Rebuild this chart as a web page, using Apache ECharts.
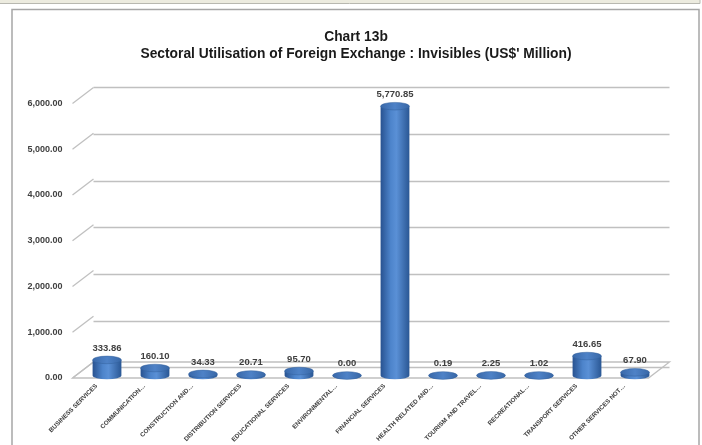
<!DOCTYPE html>
<html>
<head>
<meta charset="utf-8">
<style>
  html, body { margin: 0; padding: 0; background: #ffffff; }
  #chart { width: 702px; height: 445px; }
</style>
<script src="https://cdn.jsdelivr.net/npm/echarts@6/dist/echarts.min.js"></script>
</head>
<body>
<div id="chart"></div>
<script>
// Sector names (as truncated on the axis) and their utilisation, US$ million
const categories = [
  'BUSINESS SERVICES', 'COMMUNICATION…', 'CONSTRUCTION AND…', 'DISTRIBUTION SERVICES',
  'EDUCATIONAL SERVICES', 'ENVIRONMENTAL…', 'FINANCIAL SERVICES', 'HEALTH RELATED AND…',
  'TOURISM AND TRAVEL…', 'RECREATIONAL…', 'TRANSPORT SERVICES', 'OTHER SERVICES NOT…'
];
const values = [333.86, 160.10, 34.33, 20.71, 95.70, 0.00, 5770.85, 0.19, 2.25, 1.02, 416.65, 67.90];
const yTicks = [0, 1000, 2000, 3000, 4000, 5000, 6000];

const titleText = 'Chart 13b';
const subtitleText = "Sectoral Utilisation of Foreign Exchange : Invisibles (US$' Million)";

// pseudo-3D projection: depth of the plot box in screen pixels
const DX = 21, DY = -16;
const PLOT_W = 576, PLOT_H = 280;
const FRONT_LEFT = 72.5, FRONT_TOP = 103.5;

const fmt = v => v.toLocaleString('en-US', { minimumFractionDigits: 2, maximumFractionDigits: 2 });
const FONT = '"Liberation Sans", Arial, sans-serif';

const chart = echarts.init(document.getElementById('chart'), null, { renderer: 'canvas' });

// three stacked planes: front (labels), middle (cylinders), back (wall gridlines)
function gridAt(k) {
  return {
    left: FRONT_LEFT + DX * k,
    top: FRONT_TOP + DY * k,
    width: PLOT_W,
    height: PLOT_H,
    containLabel: false
  };
}

const yBase = { type: 'value', min: 0, max: yTicks[yTicks.length - 1], interval: 1000 };

function renderCylinder(params, api) {
  const i = api.value(0), v = api.value(1);
  const top = api.coord([i, v]);
  const base = api.coord([i, 0]);
  const w = api.size([1, 0])[0] * 0.6;
  const rx = w / 2, ry = 3.8;
  const cx = top[0], yt = top[1], yb = base[1];
  const x0 = cx - rx, x1 = cx + rx;
  const bodyPath =
    `M${x0} ${yt} L${x0} ${yb} A${rx} ${ry} 0 0 0 ${x1} ${yb} L${x1} ${yt} Z`;
  const sideFill = {
    type: 'linear', x: 0, y: 0, x2: 1, y2: 0,
    colorStops: [
      { offset: 0, color: '#285290' },
      { offset: 0.35, color: '#4d84cb' },
      { offset: 0.55, color: '#5a90d6' },
      { offset: 1, color: '#2a5794' }
    ]
  };
  const topFill = {
    type: 'linear', x: 0, y: 0, x2: 1, y2: 0,
    colorStops: [
      { offset: 0, color: '#3968a9' },
      { offset: 0.5, color: '#4e82c7' },
      { offset: 1, color: '#3867a6' }
    ]
  };
  const topPath =
    `M${x0} ${yt} A${rx} ${ry} 0 0 1 ${x1} ${yt} A${rx} ${ry} 0 0 1 ${x0} ${yt} Z`;
  return {
    type: 'group',
    children: [
      { type: 'path', shape: { pathData: bodyPath }, style: { fill: sideFill } },
      { type: 'path', shape: { pathData: topPath }, style: { fill: topFill, stroke: '#33609c', lineWidth: 0.5 } },
      {
        type: 'text',
        style: {
          text: fmt(v), x: cx, y: yt - ry - 3,
          align: 'center', verticalAlign: 'bottom',
          font: `bold 9.5px ${FONT}`, fill: '#404040'
        }
      }
    ]
  };
}

// short receding edges of the side wall at each tick
function renderWallTick(params, api) {
  const cs = params.coordSys;
  const y = api.coord([0, api.value(1)])[1];
  return {
    type: 'line',
    shape: { x1: cs.x, y1: y, x2: cs.x + DX, y2: y + DY },
    style: { stroke: '#c0c0c0', lineWidth: 1.3 }
  };
}

// outline of the floor
function renderFloor(params, api) {
  const cs = params.coordSys;
  const y0 = api.coord([0, 0])[1];
  return {
    type: 'polygon',
    shape: {
      points: [
        [cs.x, y0], [cs.x + cs.width, y0],
        [cs.x + cs.width + DX, y0 + DY], [cs.x + DX, y0 + DY]
      ]
    },
    style: { fill: 'rgba(255,255,255,0)', stroke: '#c0c0c0', lineWidth: 1.3 }
  };
}

chart.setOption({
  backgroundColor: '#ffffff',
  animation: false,
  title: {
    text: titleText + '\n' + subtitleText,
    left: 351, top: 24,
    textAlign: 'center',
    textStyle: { fontFamily: FONT, fontSize: 13.8, fontWeight: 'bold', color: '#1a1a1a', lineHeight: 17 }
  },
  graphic: [
    { type: 'rect', shape: { x: -2, y: -2, width: 702, height: 5.5 }, style: { fill: '#ecebdf', stroke: '#b8b8b0', lineWidth: 1 }, silent: true },
    { type: 'rect', shape: { x: 12, y: 9.5, width: 687, height: 450 }, style: { fill: 'none', stroke: '#a6a6a6', lineWidth: 1.5 }, silent: true, z: -1 }
  ],
  grid: [gridAt(0), gridAt(0.5), gridAt(1)],
  xAxis: [
    {
      gridIndex: 0, type: 'category', data: categories,
      axisLine: { show: false }, axisTick: { show: false },
      axisLabel: { rotate: 45, margin: 7, interval: 0, fontFamily: FONT, fontSize: 6.3, fontWeight: 'bold', color: '#404040' }
    },
    { gridIndex: 1, type: 'category', data: categories, show: false },
    { gridIndex: 2, type: 'category', data: categories, show: false }
  ],
  yAxis: [
    {
      gridIndex: 0, ...yBase,
      axisLine: { show: false }, axisTick: { show: false }, splitLine: { show: false },
      axisLabel: { margin: 10, formatter: v => fmt(v), fontFamily: FONT, fontSize: 9, fontWeight: 'bold', color: '#404040' }
    },
    { gridIndex: 1, ...yBase, show: false, splitLine: { show: false } },
    {
      gridIndex: 2, ...yBase,
      axisLine: { show: false }, axisTick: { show: false }, axisLabel: { show: false },
      splitLine: { show: true, lineStyle: { color: '#c0c0c0', width: 1.3 } }
    }
  ],
  series: [
    {
      type: 'custom', xAxisIndex: 0, yAxisIndex: 0, z: 1,
      renderItem: renderFloor, data: [[0, 0]], silent: true
    },
    {
      type: 'custom', xAxisIndex: 0, yAxisIndex: 0, z: 1,
      renderItem: renderWallTick, data: yTicks.map(v => [0, v]), silent: true
    },
    {
      type: 'custom', xAxisIndex: 1, yAxisIndex: 1, z: 5,
      renderItem: renderCylinder,
      data: values.map((v, i) => [i, v])
    }
  ]
});
</script>
</body>
</html>
